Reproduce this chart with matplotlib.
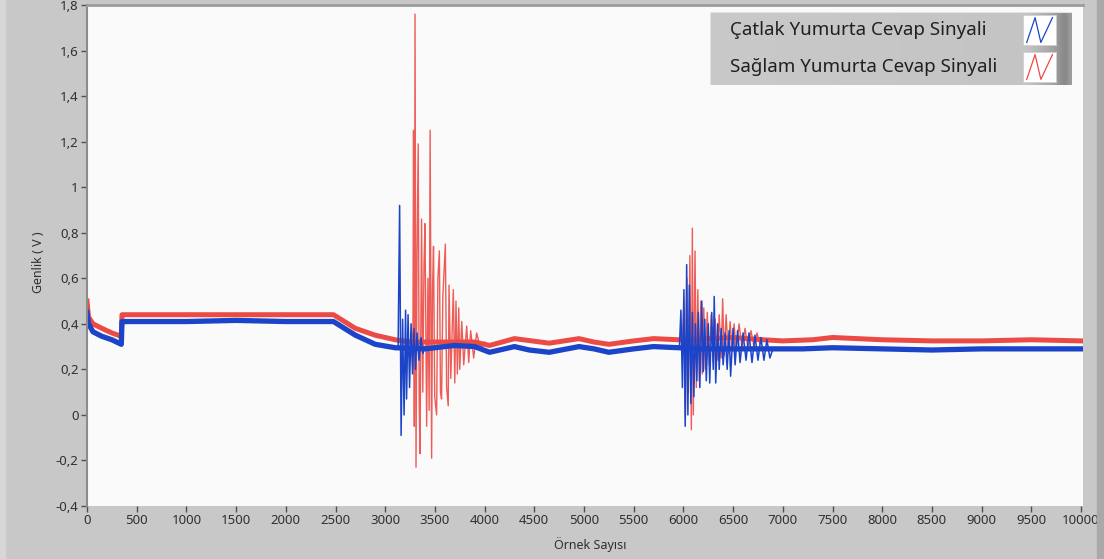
import matplotlib
matplotlib.use("Agg")
import matplotlib.pyplot as plt
import matplotlib.ticker as ticker
from matplotlib.patches import Rectangle
from matplotlib.colors import LinearSegmentedColormap
import numpy as np

plt.rcParams['font.family'] = ['Noto Sans', 'DejaVu Sans']

# --- data ----------------------------------------------------------------
# slow baseline (noisy band) of the cracked-egg response
catlak_base_x = [0, 15, 60, 150, 250, 345, 352, 360, 1000, 1500, 2000, 2480, 2700, 2900,
                 3100, 3400, 3700, 3900, 4050, 4300, 4450, 4650, 4950, 5100, 5250, 5500,
                 5700, 5950, 6200, 6500, 6900, 7200, 7500, 8000, 8500, 9000, 9500, 10000]
catlak_base_y = [0.45, 0.40, 0.365, 0.345, 0.33, 0.31, 0.41, 0.41, 0.41, 0.415, 0.41, 0.41,
                 0.35, 0.31, 0.295, 0.29, 0.305, 0.30, 0.275, 0.30, 0.285, 0.275, 0.30, 0.29,
                 0.275, 0.29, 0.30, 0.295, 0.29, 0.29, 0.29, 0.29, 0.295, 0.29, 0.285, 0.29,
                 0.29, 0.29]

# slow baseline of the intact-egg response
saglam_base_x = [0, 15, 60, 150, 250, 345, 352, 360, 1000, 1500, 2000, 2480, 2700, 2900,
                 3100, 3250, 3900, 4050, 4300, 4650, 4950, 5100, 5250, 5500, 5700, 5950,
                 6500, 6800, 7000, 7300, 7500, 8000, 8500, 9000, 9500, 10000]
saglam_base_y = [0.50, 0.43, 0.40, 0.38, 0.36, 0.345, 0.44, 0.44, 0.44, 0.44, 0.44, 0.44,
                 0.38, 0.35, 0.33, 0.32, 0.32, 0.305, 0.335, 0.315, 0.335, 0.32, 0.31, 0.325,
                 0.335, 0.33, 0.34, 0.33, 0.325, 0.33, 0.34, 0.33, 0.325, 0.325, 0.33, 0.325]

# impact bursts (oscillation extremes)
catlak_b1_x = [3130, 3145, 3160, 3175, 3190, 3205, 3215, 3230, 3245, 3260, 3275, 3290,
               3305, 3320, 3340, 3360, 3380, 3400]
catlak_b1_y = [0.30, 0.92, -0.09, 0.42, 0.0, 0.46, 0.07, 0.44, 0.12, 0.40, 0.18, 0.38,
               0.20, 0.36, 0.24, 0.34, 0.27, 0.30]

saglam_b1_x = [3250, 3265, 3278, 3285, 3293, 3300, 3310, 3320, 3332, 3342, 3350, 3366,
               3378, 3390, 3400, 3417, 3430, 3442, 3452, 3467, 3476, 3486, 3498, 3517,
               3530, 3545, 3556, 3567, 3580, 3605, 3618, 3634, 3642, 3660, 3685, 3700,
               3712, 3726, 3740, 3750, 3770, 3790, 3820, 3840, 3860, 3890, 3920, 3960, 4000]
saglam_b1_y = [0.32, 0.36, 0.20, 1.25, -0.05, 1.76, -0.23, 0.70, 1.19, 0.05, -0.17, 0.86,
               0.10, 0.65, 0.84, -0.05, 0.60, 0.02, 1.25, -0.19, 0.55, 0.74, 0.08, 0.0,
               0.60, 0.72, 0.10, 0.07, 0.52, 0.75, 0.12, 0.04, 0.57, 0.16, 0.55, 0.14,
               0.50, 0.18, 0.47, 0.20, 0.41, 0.22, 0.39, 0.23, 0.37, 0.25, 0.36, 0.29, 0.32]

catlak_b2_x = [5960, 5975, 5990, 6005, 6018, 6033, 6045, 6060, 6075, 6090, 6105, 6120,
               6135, 6150, 6165, 6185, 6200, 6215, 6230, 6250, 6265, 6285, 6300, 6310,
               6325, 6345, 6360, 6380, 6400, 6420, 6440, 6460, 6475, 6500, 6520, 6545,
               6570, 6600, 6630, 6660, 6690, 6720, 6750, 6780, 6810, 6840, 6870, 6900]
catlak_b2_y = [0.30, 0.46, 0.12, 0.55, -0.05, 0.66, 0.0, 0.57, 0.05, 0.45, 0.08, 0.40,
               0.15, 0.45, 0.12, 0.50, 0.19, 0.42, 0.15, 0.40, 0.14, 0.45, 0.20, 0.52,
               0.14, 0.40, 0.20, 0.38, 0.22, 0.36, 0.20, 0.37, 0.17, 0.38, 0.22, 0.37,
               0.23, 0.36, 0.24, 0.36, 0.23, 0.35, 0.24, 0.34, 0.24, 0.33, 0.25, 0.29]

saglam_b2_x = [5990, 6005, 6020, 6035, 6050, 6065, 6080, 6090, 6100, 6117, 6130, 6145,
               6160, 6175, 6190, 6205, 6220, 6240, 6260, 6280, 6300, 6320, 6340, 6360,
               6380, 6395, 6410, 6430, 6450, 6470, 6490, 6510, 6530, 6560, 6590, 6620,
               6650, 6680, 6710, 6740, 6770, 6800]
saglam_b2_y = [0.33, 0.50, -0.01, 0.60, 0.10, 0.70, -0.065, 0.82, 0.0, 0.72, 0.12, 0.55,
               0.15, 0.50, 0.18, 0.47, 0.20, 0.45, 0.22, 0.44, 0.23, 0.42, 0.24, 0.44,
               0.25, 0.51, 0.26, 0.44, 0.27, 0.41, 0.28, 0.40, 0.28, 0.40, 0.29, 0.38,
               0.29, 0.37, 0.30, 0.36, 0.31, 0.33]

series_names = ["Çatlak Yumurta Cevap Sinyali", "Sağlam Yumurta Cevap Sinyali"]
x_ticks = list(range(0, 10001, 500))
y_ticks = [-0.4, -0.2, 0, 0.2, 0.4, 0.6, 0.8, 1, 1.2, 1.4, 1.6, 1.8]

BLUE = '#1c44c8'
RED = '#ec4b45'
BG = '#c8c8c8'

W, H = 1104, 559
fig = plt.figure(figsize=(W / 100, H / 100), dpi=100, facecolor=BG)

# side strips of the panel
fig.patches.append(Rectangle((0, 0), 5 / W, 1, transform=fig.transFigure, color='#d6d6d6', zorder=0))
fig.patches.append(Rectangle((1097 / W, 0), 7 / W, 1, transform=fig.transFigure, color='#a9a9a9', zorder=0))

ax = fig.add_axes([87 / W, 1 - 506 / H, 996 / W, 501 / H])
ax.set_facecolor('#fafafa')

# red first, blue drawn over it
ax.plot(saglam_base_x, saglam_base_y, color=RED, lw=3.6, solid_joinstyle='round')
ax.plot(saglam_b1_x, saglam_b1_y, color=RED, lw=1.0, alpha=0.9)
ax.plot(saglam_b2_x, saglam_b2_y, color=RED, lw=1.0, alpha=0.9)
ax.plot(catlak_base_x, catlak_base_y, color=BLUE, lw=3.8, solid_joinstyle='round')
ax.plot(catlak_b1_x, catlak_b1_y, color=BLUE, lw=1.1)
ax.plot(catlak_b2_x, catlak_b2_y, color=BLUE, lw=1.1)

ax.set_xlim(0, 10020)
ax.set_ylim(-0.4, 1.8)
ax.set_xticks(x_ticks)
ax.set_yticks(y_ticks)
fmt = ticker.FuncFormatter(lambda v, p: ('%g' % round(v, 2)).replace('.', ','))
ax.yaxis.set_major_formatter(fmt)
ax.xaxis.set_major_formatter(ticker.FuncFormatter(lambda v, p: '%d' % v))
ax.tick_params(axis='both', direction='out', length=4, width=1, color='#505050',
               labelcolor='#303030', labelsize=9.5, pad=2)

for s in ('bottom', 'right'):
    ax.spines[s].set_visible(False)
ax.spines['left'].set_color('#8c8c8c')
ax.spines['left'].set_linewidth(1.5)
ax.spines['top'].set_color('#9c9c9c')
ax.spines['top'].set_linewidth(2)

fig.text(590 / W, 1 - 545 / H, "Örnek Sayısı", ha='center', va='center', fontsize=9, color='#303030')
fig.text(38 / W, 1 - 262 / H, "Genlik ( V )", ha='center', va='center', rotation=90,
         fontsize=9, color='#303030')

# legend panel in LabVIEW style
lax = fig.add_axes([710 / W, 1 - 85 / H, 362 / W, 73 / H])
grad = LinearSegmentedColormap.from_list('g', [(0, '#c9c9c9'), (0.88, '#c4c4c4'),
                                              (0.95, '#a4a4a4'), (0.985, '#888888'),
                                              (1, '#9c9c9c')])
lax.imshow(np.linspace(0, 1, 300).reshape(1, -1), cmap=grad, aspect='auto',
           extent=[0, 1, 0, 1], zorder=0)
lax.set_xlim(0, 1)
lax.set_ylim(0, 1)
lax.axis('off')
lax.plot([0, 0, 1], [0, 1, 1], color='#e2e2e2', lw=1.5, zorder=1)

row_y = [0.753, 0.247]
colors = [BLUE, RED]
for name, yc, c in zip(series_names, row_y, colors):
    lax.text(0.055, yc, name, ha='left', va='center', fontsize=13.5, color='#202020')
    lax.add_patch(Rectangle((0.865, yc - 0.205), 0.091, 0.41, facecolor='white',
                            edgecolor='#d0d0d0', lw=0.6, zorder=2))
    zx = [0.875, 0.898, 0.914, 0.946]
    zy = [yc - 0.17, yc + 0.17, yc - 0.17, yc + 0.17]
    lax.plot(zx, zy, color=c, lw=0.9, zorder=3)

fig.savefig("out.png", dpi=100, facecolor=BG)
